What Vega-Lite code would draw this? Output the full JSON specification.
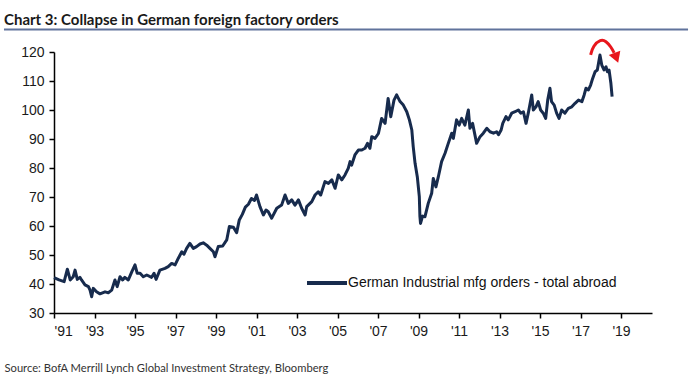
{
  "$schema": "https://vega.github.io/schema/vega-lite/v6.json",
  "autosize": {"type": "none"},
  "width": 598,
  "height": 261,
  "padding": {"left": 54, "top": 52, "right": 40, "bottom": 77},
  "background": "white",
  "title": {
    "text": "Chart 3: Collapse in German foreign factory orders",
    "anchor": "start",
    "frame": "group",
    "dx": -50,
    "dy": 16,
    "font": "Lato",
    "fontSize": 15,
    "fontWeight": "bold",
    "color": "#1a1a1a",
    "baseline": "alphabetic",
    "offset": 4
  },
  "config": {
    "view": {"stroke": null},
    "axis": {"labelOverlap": false, "labelFont": "Liberation Sans", "labelFontSize": 14},
    "axisY": {"labelOverlap": false},
    "axisQuantitative": {"labelOverlap": false}
  },
  "datasets": {
    "series": [
      {"year": 1991.0, "value": 42.2}, {"year": 1991.25, "value": 41.4}, {"year": 1991.5, "value": 40.8},
      {"year": 1991.66, "value": 45.1}, {"year": 1991.8, "value": 41.4}, {"year": 1991.95, "value": 42.5},
      {"year": 1992.04, "value": 44.8}, {"year": 1992.15, "value": 41.6}, {"year": 1992.28, "value": 42.3},
      {"year": 1992.36, "value": 41.4}, {"year": 1992.53, "value": 39.7}, {"year": 1992.7, "value": 39.1},
      {"year": 1992.78, "value": 37.9}, {"year": 1992.86, "value": 35.6}, {"year": 1992.94, "value": 38.5},
      {"year": 1993.1, "value": 37.3}, {"year": 1993.27, "value": 36.6}, {"year": 1993.52, "value": 37.3},
      {"year": 1993.68, "value": 37.0}, {"year": 1993.85, "value": 37.9}, {"year": 1994.01, "value": 41.4},
      {"year": 1994.12, "value": 39.1}, {"year": 1994.26, "value": 42.5}, {"year": 1994.39, "value": 41.4},
      {"year": 1994.5, "value": 42.3}, {"year": 1994.67, "value": 41.4}, {"year": 1994.84, "value": 44.2},
      {"year": 1995.0, "value": 46.6}, {"year": 1995.11, "value": 43.7}, {"year": 1995.25, "value": 43.7},
      {"year": 1995.41, "value": 42.5}, {"year": 1995.58, "value": 43.1}, {"year": 1995.82, "value": 42.3},
      {"year": 1995.94, "value": 43.7}, {"year": 1996.04, "value": 41.6}, {"year": 1996.23, "value": 44.8},
      {"year": 1996.48, "value": 45.4}, {"year": 1996.64, "value": 46.0}, {"year": 1996.81, "value": 47.1},
      {"year": 1996.98, "value": 46.6}, {"year": 1997.14, "value": 48.9}, {"year": 1997.31, "value": 51.1},
      {"year": 1997.42, "value": 50.3}, {"year": 1997.55, "value": 52.3}, {"year": 1997.71, "value": 54.0},
      {"year": 1997.88, "value": 52.3}, {"year": 1998.04, "value": 52.9}, {"year": 1998.21, "value": 53.8},
      {"year": 1998.37, "value": 54.2}, {"year": 1998.54, "value": 53.4}, {"year": 1998.7, "value": 52.3},
      {"year": 1998.87, "value": 51.1}, {"year": 1998.95, "value": 49.4}, {"year": 1999.11, "value": 52.9},
      {"year": 1999.33, "value": 53.1}, {"year": 1999.53, "value": 55.2}, {"year": 1999.66, "value": 59.8},
      {"year": 1999.86, "value": 59.6}, {"year": 2000.02, "value": 57.7}, {"year": 2000.15, "value": 62.1},
      {"year": 2000.3, "value": 64.0}, {"year": 2000.45, "value": 66.5}, {"year": 2000.6, "value": 67.5},
      {"year": 2000.75, "value": 69.5}, {"year": 2000.9, "value": 68.8}, {"year": 2001.0, "value": 70.7},
      {"year": 2001.17, "value": 66.7}, {"year": 2001.34, "value": 63.8}, {"year": 2001.47, "value": 65.5},
      {"year": 2001.58, "value": 64.9}, {"year": 2001.75, "value": 62.7}, {"year": 2002.0, "value": 66.1},
      {"year": 2002.24, "value": 67.2}, {"year": 2002.41, "value": 70.7}, {"year": 2002.57, "value": 67.8},
      {"year": 2002.74, "value": 69.0}, {"year": 2002.9, "value": 67.2}, {"year": 2003.07, "value": 69.0},
      {"year": 2003.23, "value": 66.1}, {"year": 2003.4, "value": 63.8}, {"year": 2003.48, "value": 66.7},
      {"year": 2003.73, "value": 68.4}, {"year": 2003.89, "value": 70.7}, {"year": 2004.05, "value": 71.8},
      {"year": 2004.17, "value": 70.7}, {"year": 2004.38, "value": 75.3}, {"year": 2004.55, "value": 74.7},
      {"year": 2004.72, "value": 75.9}, {"year": 2004.88, "value": 73.0}, {"year": 2005.04, "value": 77.6},
      {"year": 2005.21, "value": 75.9}, {"year": 2005.37, "value": 77.6}, {"year": 2005.53, "value": 79.9},
      {"year": 2005.62, "value": 82.2}, {"year": 2005.7, "value": 81.0}, {"year": 2005.86, "value": 84.5},
      {"year": 2006.03, "value": 86.2}, {"year": 2006.2, "value": 86.2}, {"year": 2006.36, "value": 86.8},
      {"year": 2006.48, "value": 88.5}, {"year": 2006.6, "value": 86.8}, {"year": 2006.69, "value": 90.8},
      {"year": 2006.85, "value": 90.2}, {"year": 2007.02, "value": 91.9}, {"year": 2007.18, "value": 97.1},
      {"year": 2007.35, "value": 95.4}, {"year": 2007.5, "value": 104.0}, {"year": 2007.63, "value": 97.7},
      {"year": 2007.79, "value": 103.4}, {"year": 2007.92, "value": 105.2}, {"year": 2008.09, "value": 102.9},
      {"year": 2008.25, "value": 101.7}, {"year": 2008.42, "value": 99.4}, {"year": 2008.55, "value": 96.6},
      {"year": 2008.67, "value": 93.1}, {"year": 2008.74, "value": 87.3}, {"year": 2008.83, "value": 81.6},
      {"year": 2008.94, "value": 77.0}, {"year": 2009.04, "value": 70.1}, {"year": 2009.07, "value": 63.2},
      {"year": 2009.1, "value": 60.9}, {"year": 2009.2, "value": 63.4}, {"year": 2009.32, "value": 63.2},
      {"year": 2009.48, "value": 67.8}, {"year": 2009.65, "value": 71.3}, {"year": 2009.73, "value": 76.4},
      {"year": 2009.86, "value": 73.5}, {"year": 2009.98, "value": 77.0}, {"year": 2010.14, "value": 82.2},
      {"year": 2010.31, "value": 85.1}, {"year": 2010.47, "value": 88.5}, {"year": 2010.64, "value": 92.0},
      {"year": 2010.72, "value": 90.2}, {"year": 2010.88, "value": 96.6}, {"year": 2011.01, "value": 94.8},
      {"year": 2011.13, "value": 97.1}, {"year": 2011.29, "value": 94.8}, {"year": 2011.46, "value": 100.0},
      {"year": 2011.54, "value": 93.7}, {"year": 2011.67, "value": 95.4}, {"year": 2011.87, "value": 88.5},
      {"year": 2012.04, "value": 90.8}, {"year": 2012.2, "value": 92.0}, {"year": 2012.37, "value": 93.7},
      {"year": 2012.53, "value": 92.5}, {"year": 2012.7, "value": 92.0}, {"year": 2012.86, "value": 92.5},
      {"year": 2012.95, "value": 91.5}, {"year": 2013.08, "value": 93.1}, {"year": 2013.16, "value": 95.4},
      {"year": 2013.32, "value": 97.7}, {"year": 2013.43, "value": 96.6}, {"year": 2013.6, "value": 98.9},
      {"year": 2013.77, "value": 99.4}, {"year": 2013.93, "value": 100.0}, {"year": 2014.05, "value": 98.9},
      {"year": 2014.18, "value": 99.4}, {"year": 2014.31, "value": 95.4}, {"year": 2014.42, "value": 98.9},
      {"year": 2014.59, "value": 105.2}, {"year": 2014.67, "value": 100.0}, {"year": 2014.8, "value": 101.1},
      {"year": 2014.91, "value": 102.9}, {"year": 2015.03, "value": 100.0}, {"year": 2015.16, "value": 98.9},
      {"year": 2015.28, "value": 97.1}, {"year": 2015.38, "value": 103.4}, {"year": 2015.49, "value": 107.5},
      {"year": 2015.57, "value": 102.9}, {"year": 2015.7, "value": 101.7}, {"year": 2015.82, "value": 98.9},
      {"year": 2015.94, "value": 97.1}, {"year": 2016.07, "value": 100.0}, {"year": 2016.23, "value": 98.9},
      {"year": 2016.4, "value": 100.6}, {"year": 2016.57, "value": 101.1}, {"year": 2016.73, "value": 102.3},
      {"year": 2016.9, "value": 103.4}, {"year": 2017.07, "value": 102.9}, {"year": 2017.18, "value": 105.2},
      {"year": 2017.27, "value": 107.5}, {"year": 2017.39, "value": 106.9}, {"year": 2017.5, "value": 108.6},
      {"year": 2017.6, "value": 110.9}, {"year": 2017.72, "value": 113.2}, {"year": 2017.83, "value": 113.8},
      {"year": 2017.96, "value": 119.0}, {"year": 2018.05, "value": 115.5}, {"year": 2018.16, "value": 113.8},
      {"year": 2018.26, "value": 114.9}, {"year": 2018.33, "value": 113.2}, {"year": 2018.41, "value": 113.8},
      {"year": 2018.5, "value": 109.2}, {"year": 2018.56, "value": 104.6}
    ],
    "arc": [
      {"year": 2017.5, "value": 119.0}, {"year": 2017.62, "value": 122.1}, {"year": 2017.99, "value": 124.4},
      {"year": 2018.26, "value": 123.8}, {"year": 2018.51, "value": 121.7}, {"year": 2018.66, "value": 119.7}
    ],
    "head": [{"year": 2018.77, "value": 118.0}],
    "underline": [{"x1": 1988.53, "x2": 2022.31, "level": 127.76}]
  },
  "layer": [
    {
      "data": {"name": "series"},
      "mark": {"type": "line", "strokeWidth": 3, "strokeJoin": "round"},
      "encoding": {
        "x": {
          "field": "year",
          "type": "quantitative",
          "scale": {"domain": [1991, 2020.53], "nice": false, "zero": false},
          "axis": {
            "values": [1991, 1993, 1995, 1997, 1999, 2001, 2003, 2005, 2007, 2009, 2011, 2013, 2015, 2017, 2019],
            "labelExpr": "\"'\" + substring(toString(datum.value), 2)",
            "labelOverlap": false,
            "labelFont": "Liberation Sans",
            "labelFontSize": 14,
            "labelColor": "#1a1a1a",
            "labelPadding": 6,
            "grid": false,
            "domainColor": "#000000",
            "domainWidth": 1.5,
            "tickColor": "#000000",
            "tickWidth": 1.5,
            "tickSize": 5,
            "title": "Source:  BofA Merrill Lynch Global Investment Strategy, Bloomberg",
            "titleFont": "Lato",
            "titleFontSize": 11.2,
            "titleFontWeight": "normal",
            "titleColor": "#333333",
            "titleX": -50,
            "titleY": 55,
            "titleAlign": "left",
            "titleBaseline": "middle",
            "titleAnchor": null
          }
        },
        "y": {
          "field": "value",
          "type": "quantitative",
          "scale": {"domain": [30, 120], "nice": false, "zero": false},
          "axis": {
            "tickCount": 10,
            "title": null,
            "labelOverlap": false,
            "labelSeparation": 0,
            "labelFont": "Liberation Sans",
            "labelFontSize": 14,
            "labelColor": "#1a1a1a",
            "labelPadding": 5,
            "grid": false,
            "domainColor": "#000000",
            "domainWidth": 1.5,
            "tickColor": "#000000",
            "tickWidth": 1.5,
            "tickSize": 5
          }
        },
        "color": {
          "datum": "German Industrial mfg orders - total abroad",
          "type": "nominal",
          "scale": {"range": ["#172b4d"]},
          "legend": {
            "title": null,
            "orient": "none",
            "legendX": 251,
            "legendY": 209,
            "padding": 0,
            "symbolType": "stroke",
            "symbolSize": 1600,
            "symbolStrokeWidth": 4,
            "symbolStrokeColor": "#172b4d",
            "labelFont": "Liberation Sans",
            "labelFontSize": 14,
            "labelLimit": 400,
            "labelColor": "#111111",
            "labelOffset": -1
          }
        }
      }
    },
    {
      "data": {"name": "underline"},
      "mark": {"type": "rule", "color": "#60739c", "strokeWidth": 2},
      "encoding": {
        "x": {"field": "x1", "type": "quantitative"},
        "x2": {"field": "x2"},
        "y": {"field": "level", "type": "quantitative"}
      }
    },
    {
      "data": {"name": "arc"},
      "mark": {"type": "line", "color": "#e8161c", "strokeWidth": 3, "interpolate": "basis"},
      "encoding": {
        "x": {"field": "year", "type": "quantitative"},
        "y": {"field": "value", "type": "quantitative"}
      }
    },
    {
      "data": {"name": "head"},
      "mark": {"type": "point", "shape": "triangle-down", "filled": true, "color": "#e8161c", "size": 150, "angle": -20, "opacity": 1},
      "encoding": {
        "x": {"field": "year", "type": "quantitative"},
        "y": {"field": "value", "type": "quantitative"}
      }
    }
  ]
}
